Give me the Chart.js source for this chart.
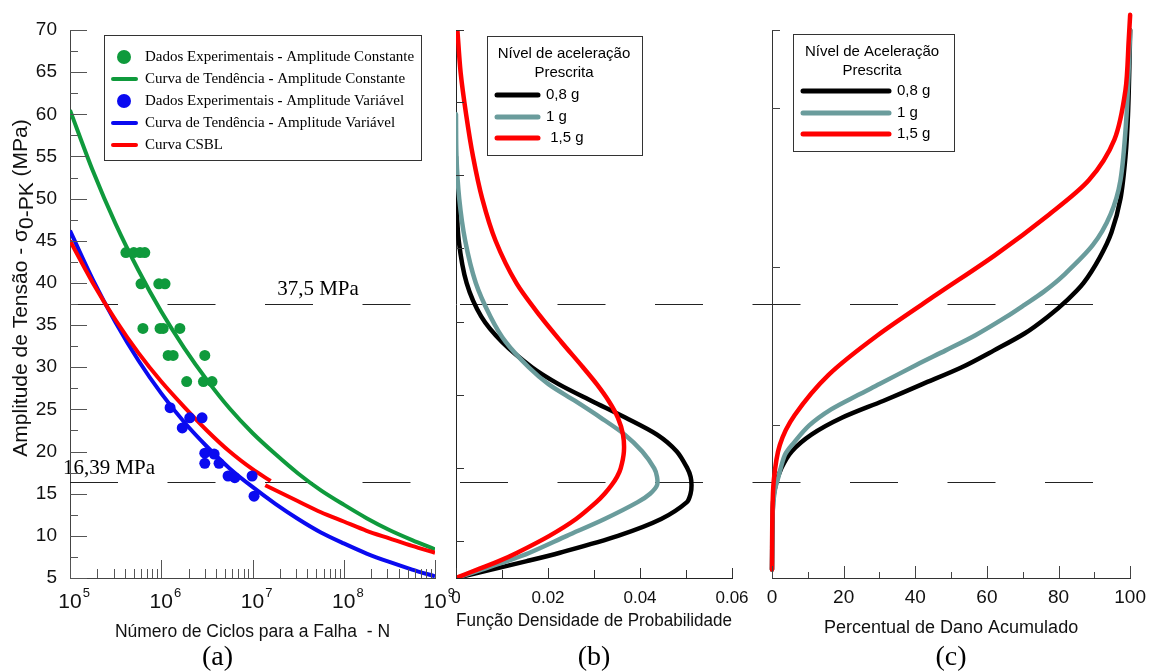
<!DOCTYPE html>
<html>
<head>
<meta charset="utf-8">
<script src="https://cdn.jsdelivr.net/npm/chart.js@4.4.1/dist/chart.umd.min.js"></script>
<style>
  html, body { margin: 0; padding: 0; background: #fff; }
  #quadro { position: relative; width: 1154px; height: 672px; overflow: hidden; }
  canvas { position: absolute; top: 0; }
</style>
</head>
<body>
<div id="quadro">
  <canvas id="graficoA" width="1154" height="672" style="left:0px"></canvas>
  <canvas id="graficoB" width="330" height="672" style="left:436px"></canvas>
  <canvas id="graficoC" width="402" height="672" style="left:752px"></canvas>
</div>
<script>
// (a) Curva S-N
const ciclosTendencia = [1e5, 1.78e5, 3.16e5, 5.62e5, 1e6, 1.78e6, 3.16e6, 5.62e6, 1e7, 1.78e7, 3.16e7, 5.62e7, 1e8, 1.78e8, 3.16e8, 5.62e8, 1e9];
const tendenciaConstante = [60.5, 53.3, 47.0, 41.5, 36.6, 32.3, 28.5, 25.1, 22.2, 19.7, 17.4, 15.4, 13.7, 12.1, 10.7, 9.5, 8.4];
const tendenciaVariavel = [46.2, 40.4, 35.3, 30.8, 26.9, 23.5, 20.6, 18.0, 15.8, 13.8, 12.0, 10.4, 9.1, 7.9, 6.9, 6.0, 5.2];

const ciclosCsbl1 = [1e5, 1.78e5, 3.16e5, 5.62e5, 1e6, 1.78e6, 3.16e6, 5.62e6, 1e7, 1.58e7];
const tensaoCsbl1 = [45.0, 40.0, 35.6, 31.7, 28.3, 25.3, 22.5, 20.0, 17.9, 16.5];
const ciclosCsbl2 = [1.38e7, 3.16e7, 5.62e7, 1e8, 1.78e8, 3.16e8, 5.62e8, 1e9];
const tensaoCsbl2 = [16.0, 14.1, 12.8, 11.7, 10.6, 9.7, 8.8, 8.0];

const ciclosConstante = [4.1e5, 5.0e5, 5.85e5, 6.6e5, 6.0e5, 9.4e5, 1.1e6, 6.3e5, 9.7e5, 1.05e6, 1.6e6, 1.19e6, 1.35e6, 3.0e6, 1.9e6, 2.9e6, 3.6e6];
const tensaoConstante = [43.6, 43.6, 43.6, 43.6, 39.9, 39.9, 39.9, 34.6, 34.6, 34.6, 34.6, 31.4, 31.4, 31.4, 28.3, 28.3, 28.3];
const ciclosVariavel = [1.25e6, 1.7e6, 2.05e6, 2.8e6, 3.0e6, 3.0e6, 3.8e6, 4.3e6, 5.4e6, 6.4e6, 9.9e6, 1.04e7];
const tensaoVariavel = [25.2, 22.8, 24.0, 24.0, 19.8, 18.6, 19.7, 18.6, 17.1, 16.9, 17.1, 14.7];

const decadas = [1e5, 1e6, 1e7, 1e8, 1e9];
const linhasReferencia = [37.5, 16.39];

// (b) Função densidade de probabilidade
const tensaoPdf = [5, 6, 7, 8, 10, 12, 14, 15, 16, 17, 18, 20, 22, 24, 26, 28, 30, 33, 36, 40, 45, 50, 55, 60, 65, 70];
const pdf08 = [0, 0.0077, 0.0154, 0.0226, 0.0352, 0.0446, 0.0502, 0.0510, 0.0512, 0.0510, 0.0503, 0.0480, 0.0437, 0.0369, 0.0295, 0.0223, 0.0165, 0.0100, 0.0055, 0.0023, 0.0006, 0.0001, 0, null, null, null];
const pdf10 = [0, 0.0056, 0.0111, 0.0160, 0.0241, 0.0323, 0.0395, 0.0422, 0.0437, 0.0437, 0.0431, 0.0405, 0.0367, 0.0315, 0.0259, 0.0201, 0.0158, 0.0108, 0.0075, 0.0043, 0.0020, 0.0007, 0.0001, 0, null, null];
const pdf15 = [0, 0.0046, 0.0093, 0.0133, 0.0203, 0.0261, 0.0305, 0.0323, 0.0338, 0.0350, 0.0358, 0.0365, 0.0363, 0.0352, 0.0332, 0.0306, 0.0276, 0.0229, 0.0184, 0.0131, 0.0086, 0.0057, 0.0037, 0.0022, 0.0010, 0.0003];
const ticksEixoPdf = [9.4, 18.05, 26.7, 35.4, 44.1, 52.8, 61.5, 70];

// (c) Dano acumulado
const tensaoDano08 = [6, 14, 16, 18, 20, 22, 24, 26, 28, 30, 32, 34, 36, 38, 40, 43, 46, 50, 55, 60, 66, 70];
const dano08 = [0, 0.3, 1.0, 2.6, 5.5, 11, 19.5, 31, 42, 53, 62, 70.5, 77, 82.5, 87, 91.5, 94.8, 97.3, 98.7, 99.4, 99.8, 100];
const tensaoDano10 = [6, 13, 15.4, 17, 19.6, 21, 23.1, 25, 26.7, 28, 30.3, 32, 33.8, 36, 37.4, 39, 40.9, 44.5, 48.1, 52.2, 59.3, 66.4, 70];
const dano10 = [0, 0.2, 0.8, 1.8, 3.6, 6.0, 10.4, 16.5, 24.0, 30.0, 40.4, 48.5, 56.8, 65.5, 70.5, 76, 81.4, 89.6, 94.5, 97.3, 98.9, 99.7, 100];
const tensaoDano15 = [6, 12, 16.6, 20.8, 24.3, 29.1, 33.8, 38.6, 43.3, 48.1, 52.2, 57.0, 62.9, 68.8, 71.8];
const dano15 = [0, 0.1, 0.5, 2.2, 6.3, 15.8, 29.5, 45.9, 62.3, 77.3, 88.5, 95.6, 98.7, 99.6, 100];
const ticksEixoDano = [23.1, 41.9, 60.8, 70];

const SANS = '"Liberation Sans", Arial, sans-serif';
const SERIF = '"Liberation Serif", "Times New Roman", serif';
const VERDE = "#0f9a3c";
const AZUL = "#0a0af0";
const VERMELHO = "#ff0000";
const PRETO = "#000000";
const CINZA = "#6a9c9c";

Chart.defaults.font.family = SANS;
Chart.defaults.animation = false;
Chart.defaults.responsive = false;

const pares = (xs, ys) => xs.map((x, i) => ({ x: x, y: ys[i] })).filter(p => p.x !== null && p.y !== null);

// marcas de escala para dentro do gráfico
const marcasInternas = {
  id: "marcasInternas",
  afterDraw(chart, args, o) {
    const ctx = chart.ctx;
    ctx.save();
    ctx.strokeStyle = o.cor || "#333";
    ctx.lineWidth = 1;
    ["x", "y"].forEach(id => {
      const s = chart.scales[id];
      const cfg = o[id];
      if (!s || !cfg) return;
      s.ticks.forEach(t => {
        const maior = cfg.cada ? Math.abs(t.value / cfg.cada - Math.round(t.value / cfg.cada)) < 1e-6 : t.major;
        const len = maior ? cfg.maior : cfg.menor;
        const p = Math.round(s.getPixelForValue(t.value)) + 0.5;
        ctx.beginPath();
        if (id === "x") { ctx.moveTo(p, s.top); ctx.lineTo(p, s.top - len); }
        else { ctx.moveTo(s.right, p); ctx.lineTo(s.right + len, p); }
        ctx.stroke();
      });
    });
    ctx.restore();
  }
};

// legenda em caixa
const caixaLegenda = {
  id: "caixaLegenda",
  afterDraw(chart, args, o) {
    if (!o.caixa) return;
    const ctx = chart.ctx;
    const [l, t, r, b] = o.caixa;
    ctx.save();
    ctx.fillStyle = "#fff";
    ctx.fillRect(l, t, r - l, b - t);
    ctx.strokeStyle = "#333";
    ctx.lineWidth = 1;
    ctx.strokeRect(l + 0.5, t + 0.5, r - l, b - t);
    ctx.fillStyle = "#000";
    ctx.textBaseline = "middle";
    ctx.font = o.fonte;
    ctx.textAlign = "center";
    (o.titulo || []).forEach((txt, i) => ctx.fillText(txt, o.tituloX, o.tituloY[i]));
    ctx.textAlign = "left";
    const itens = chart.data.datasets.filter(d => !d.semLegenda);
    itens.forEach((d, i) => {
      const y = o.linhas[i];
      if (d.marca === "ponto") {
        ctx.fillStyle = d.pointBackgroundColor;
        ctx.beginPath();
        ctx.arc(o.pontoX, y, o.raio, 0, Math.PI * 2);
        ctx.fill();
      } else {
        ctx.strokeStyle = d.borderColor;
        ctx.lineWidth = o.espessura;
        ctx.lineCap = "round";
        ctx.beginPath();
        ctx.moveTo(o.traco[0], y);
        ctx.lineTo(o.traco[1], y);
        ctx.stroke();
      }
      ctx.fillStyle = "#000";
      let x = o.textoX;
      const partes = d.label.split(" - ");
      partes.forEach((p, k) => {
        if (k > 0) {
          ctx.font = "bold " + o.fonte;
          const h = " - ";
          ctx.fillText(h, x, y);
          x += ctx.measureText(h).width;
        }
        ctx.font = o.fonte;
        ctx.fillText(p, x, y);
        x += ctx.measureText(p).width;
      });
    });
    ctx.restore();
  }
};

Chart.register(marcasInternas, caixaLegenda);

// linhas tracejadas de referência e textos
const linhasRef = {
  id: "linhasRef",
  beforeDatasetsDraw(chart) {
    const ctx = chart.ctx;
    const y = chart.scales.y;
    ctx.save();
    ctx.strokeStyle = "#222";
    ctx.lineWidth = 1.2;
    ctx.setLineDash([48, 49.5]);
    linhasReferencia.forEach(v => {
      const p = Math.round(y.getPixelForValue(v)) + 0.5;
      ctx.beginPath();
      ctx.moveTo(70, p);
      ctx.lineTo(1094, p);
      ctx.stroke();
    });
    ctx.setLineDash([]);
    ctx.fillStyle = "#000";
    ctx.font = "21px " + SERIF;
    ctx.textAlign = "center";
    ctx.textBaseline = "middle";
    ctx.fillText("37,5 MPa", 318, y.getPixelForValue(37.5) - 15);
    ctx.fillText("16,39 MPa", 109, y.getPixelForValue(16.39) - 13);
    ctx.restore();
  }
};

// rótulos 10^n do eixo logarítmico
const rotulosLog = {
  id: "rotulosLog",
  afterDraw(chart) {
    const ctx = chart.ctx;
    const s = chart.scales.x;
    ctx.save();
    ctx.fillStyle = "#111";
    ctx.textBaseline = "alphabetic";
    s.ticks.filter(t => t.major).forEach(t => {
      const p = s.getPixelForValue(t.value);
      ctx.font = "21px " + SANS;
      ctx.textAlign = "center";
      ctx.fillText("10", p, s.top + 30);
      const w = ctx.measureText("10").width;
      ctx.font = "13px " + SANS;
      ctx.textAlign = "left";
      ctx.fillText(String(Math.round(Math.log10(t.value))), p + w / 2 + 1, s.top + 19);
    });
    ctx.restore();
  }
};

// título do eixo y com subscrito
const tituloY = {
  id: "tituloY",
  afterDraw(chart) {
    const ctx = chart.ctx;
    const partes = [["Amplitude de Tensão - σ", 0], ["0-PK", 6], [" (MPa)", 0]];
    ctx.save();
    ctx.translate(21, 288);
    ctx.rotate(-Math.PI / 2);
    ctx.fillStyle = "#111";
    ctx.textBaseline = "middle";
    ctx.textAlign = "left";
    ctx.font = "21px " + SANS;
    let total = 0;
    partes.forEach(p => { total += ctx.measureText(p[0]).width; });
    let x = -total / 2;
    partes.forEach(p => {
      ctx.fillText(p[0], x, p[1]);
      x += ctx.measureText(p[0]).width;
    });
    ctx.restore();
  }
};

// (a) Curva S-N
new Chart(document.getElementById("graficoA"), {
  type: "line",
  data: {
    datasets: [
      { label: "Dados Experimentais - Amplitude Constante", marca: "ponto", data: pares(ciclosConstante, tensaoConstante),
        showLine: false, pointRadius: 5.5, pointBorderWidth: 0, pointBackgroundColor: VERDE, order: 0 },
      { label: "Curva de Tendência - Amplitude Constante", data: pares(ciclosTendencia, tendenciaConstante),
        borderColor: VERDE, borderWidth: 4, pointRadius: 0, tension: 0.3, order: 3 },
      { label: "Dados Experimentais - Amplitude Variável", marca: "ponto", data: pares(ciclosVariavel, tensaoVariavel),
        showLine: false, pointRadius: 5.5, pointBorderWidth: 0, pointBackgroundColor: AZUL, order: 0 },
      { label: "Curva de Tendência - Amplitude Variável", data: pares(ciclosTendencia, tendenciaVariavel),
        borderColor: AZUL, borderWidth: 4, pointRadius: 0, tension: 0.3, order: 2 },
      { label: "Curva CSBL", data: pares(ciclosCsbl1, tensaoCsbl1),
        borderColor: VERMELHO, borderWidth: 4, pointRadius: 0, tension: 0.3, order: 1 },
      { label: "Curva CSBL", semLegenda: true, data: pares(ciclosCsbl2, tensaoCsbl2),
        borderColor: VERMELHO, borderWidth: 4, pointRadius: 0, tension: 0.3, order: 1 }
    ]
  },
  options: {
    layout: { padding: { top: 30, right: 719, left: 0, bottom: 0 } },
    scales: {
      x: {
        type: "logarithmic", min: 1e5, max: 1e9,
        afterBuildTicks: s => {
          const t = [];
          decadas.forEach((d, i) => {
            t.push({ value: d, major: true });
            if (i < decadas.length - 1) for (let m = 2; m <= 9; m++) t.push({ value: d * m, major: false });
          });
          s.ticks = t;
        },
        afterFit: s => { s.height = 66; },
        ticks: { display: false },
        grid: { display: false, drawTicks: false },
        border: { color: "#444" },
        title: { display: true, text: "Número de Ciclos para a Falha  - N", color: "#111",
          font: { size: 17.5 }, padding: { top: 0, bottom: 1 } }
      },
      y: {
        min: 5, max: 70,
        afterFit: s => { s.width = 70; },
        ticks: { stepSize: 2.5, autoSkip: false, padding: 13, color: "#111", font: { size: 19 },
          callback: v => (v % 5 === 0 ? v : "") },
        grid: { display: false, drawTicks: false },
        border: { color: "#444" }
      }
    },
    plugins: {
      legend: { display: false },
      tooltip: { enabled: false },
      title: { display: true, position: "bottom", text: "(a)", color: "#000", padding: 0,
        font: { family: SERIF, size: 28, weight: "normal", lineHeight: 1 } },
      marcasInternas: { cor: "#555", x: { maior: 18, menor: 9 }, y: { maior: 17, menor: 8, cada: 5 } },
      caixaLegenda: {
        caixa: [104, 35, 421, 160], fonte: "15px " + SERIF,
        linhas: [57, 79, 101, 123, 145], pontoX: 124, raio: 7, traco: [113, 136], espessura: 4, textoX: 145
      }
    }
  },
  plugins: [linhasRef, rotulosLog, tituloY]
});

// (b) Função densidade de probabilidade
const estiloPdf = { borderWidth: 4.5, pointRadius: 0, tension: 0.3, borderCapStyle: "round" };
new Chart(document.getElementById("graficoB"), {
  type: "line",
  data: {
    datasets: [
      { label: "0,8 g", data: pares(pdf08, tensaoPdf), borderColor: PRETO, ...estiloPdf, order: 3 },
      { label: "1 g", data: pares(pdf10, tensaoPdf), borderColor: CINZA, ...estiloPdf, order: 2 },
      { label: " 1,5 g", data: pares(pdf15, tensaoPdf), borderColor: VERMELHO, ...estiloPdf, order: 1 }
    ]
  },
  options: {
    layout: { padding: { top: 30, right: 34, left: 0, bottom: 0 } },
    scales: {
      x: {
        type: "linear", min: 0, max: 0.06,
        afterFit: s => { s.height = 66; },
        ticks: { stepSize: 0.01, autoSkip: false, maxRotation: 0, minRotation: 0, padding: 10, color: "#111", font: { size: 17 },
          callback: v => (Math.round(v * 100) % 2 === 0 ? (v === 0 ? "0" : v.toFixed(2)) : "") },
        grid: { display: false, drawTicks: false },
        border: { color: "#222" },
        title: { display: true, text: "Função Densidade de Probabilidade", color: "#111",
          font: { size: 18 }, padding: { top: 0, bottom: 12 } }
      },
      y: {
        min: 5, max: 70,
        afterBuildTicks: s => { s.ticks = ticksEixoPdf.map(v => ({ value: v })); },
        afterFit: s => { s.width = 20; },
        ticks: { display: false },
        grid: { display: false, drawTicks: false },
        border: { color: "#222" }
      }
    },
    plugins: {
      legend: { display: false },
      tooltip: { enabled: false },
      title: { display: true, position: "bottom", text: "(b)", color: "#000", padding: 0, fullSize: false,
        font: { family: SERIF, size: 28, weight: "normal", lineHeight: 1 } },
      marcasInternas: { cor: "#333", x: { maior: 10, menor: 8, cada: 0.02 }, y: { maior: 8, menor: 8 } },
      caixaLegenda: {
        caixa: [487 - 436, 36, 642 - 436, 155], fonte: "15px " + SANS,
        titulo: ["Nível de aceleração", "Prescrita"], tituloX: 564 - 436, tituloY: [54, 73],
        linhas: [95, 117, 138], traco: [497 - 436, 538 - 436], espessura: 5, textoX: 546 - 436
      }
    }
  }
});

// (c) Percentual de dano acumulado
const estiloDano = { borderWidth: 4.5, pointRadius: 0, tension: 0.3, borderCapStyle: "round", clip: false };
new Chart(document.getElementById("graficoC"), {
  type: "line",
  data: {
    datasets: [
      { label: "0,8 g", data: pares(dano08, tensaoDano08), borderColor: PRETO, ...estiloDano, order: 3 },
      { label: "1 g", data: pares(dano10, tensaoDano10), borderColor: CINZA, ...estiloDano, order: 2 },
      { label: "1,5 g", data: pares(dano15, tensaoDano15), borderColor: VERMELHO, ...estiloDano, order: 1 }
    ]
  },
  options: {
    layout: { padding: { top: 30, right: 16, left: 0, bottom: 0 } },
    scales: {
      x: {
        type: "linear", min: 0, max: 100,
        afterFit: s => { s.height = 66; },
        ticks: { stepSize: 10, autoSkip: false, maxRotation: 0, minRotation: 0, padding: 8, color: "#111", font: { size: 19 },
          callback: v => (v % 20 === 0 ? v : "") },
        grid: { display: false, drawTicks: false },
        border: { color: "#333" },
        title: { display: true, text: "Percentual de Dano Acumulado", color: "#111",
          font: { size: 18 }, padding: { top: 0, bottom: 5 } }
      },
      y: {
        min: 5, max: 70,
        afterBuildTicks: s => { s.ticks = ticksEixoDano.map(v => ({ value: v })); },
        afterFit: s => { s.width = 20; },
        ticks: { display: false },
        grid: { display: false, drawTicks: false },
        border: { color: "#333" }
      }
    },
    plugins: {
      legend: { display: false },
      tooltip: { enabled: false },
      title: { display: true, position: "bottom", text: "(c)", color: "#000", padding: 0, fullSize: false,
        font: { family: SERIF, size: 28, weight: "normal", lineHeight: 1 } },
      marcasInternas: { cor: "#444", x: { maior: 12, menor: 6, cada: 20 }, y: { maior: 8, menor: 8 } },
      caixaLegenda: {
        caixa: [793 - 752, 34, 954 - 752, 151], fonte: "15px " + SANS,
        titulo: ["Nível de Aceleração", "Prescrita"], tituloX: 872 - 752, tituloY: [52, 71],
        linhas: [91, 113, 134], traco: [803 - 752, 889 - 752], espessura: 5, textoX: 897 - 752
      }
    }
  }
});
</script>
</body>
</html>
